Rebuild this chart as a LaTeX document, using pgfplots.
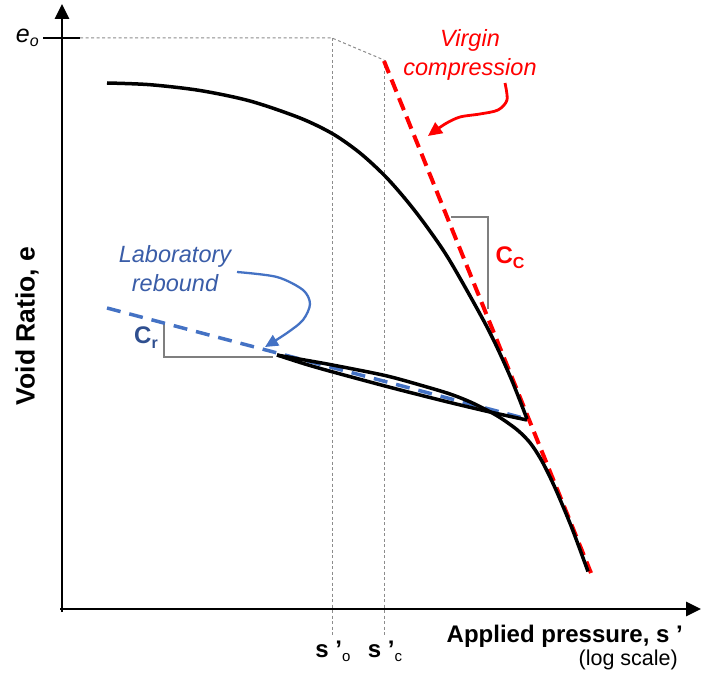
\documentclass[border=0pt]{standalone}
\usepackage{pgfplots}
\pgfplotsset{compat=1.18}
\usepackage{fontspec}
\setmainfont{Liberation Sans}
\usetikzlibrary{arrows.meta}
\definecolor{vred}{HTML}{FF0000}
\definecolor{lblue}{HTML}{4472C4}
\definecolor{tblue}{HTML}{3A5DA8}
\definecolor{cblue}{HTML}{2F4F8F}
\definecolor{tgray}{HTML}{7F7F7F}
\definecolor{dgray}{HTML}{8C8C8C}
\begin{document}
\begin{tikzpicture}
\useasboundingbox (0,0) rectangle (701pt,676pt);
\begin{axis}[
  scale only axis, width=701pt, height=676pt,
  xmin=0, xmax=701, ymin=0, ymax=676, y dir=reverse,
  hide axis, clip=false, anchor=south west, at={(0,0)},
]
% guide lines
\addplot[dgray, line width=1pt, dash pattern=on 3pt off 2.5pt] coordinates {(80,38) (332,38) (384,60)};
\addplot[dgray, line width=1pt, dash pattern=on 3pt off 2.5pt] coordinates {(332,38) (332,635)};
\addplot[dgray, line width=1pt, dash pattern=on 3pt off 2.5pt] coordinates {(384,60) (384,635)};
% axes
\addplot[black, line width=2.8pt, -{Triangle[length=15pt,width=14pt]}] coordinates {(62,612) (62,4)};
\addplot[black, line width=2.8pt, -{Triangle[length=15pt,width=14pt]}] coordinates {(60,609) (701,609)};
\addplot[black, line width=2.8pt] coordinates {(43,38) (80,38)};
% slope triangles
\addplot[tgray, line width=2.5pt] coordinates {(451,217) (488,217) (488,309)};
\addplot[tgray, line width=2.5pt] coordinates {(164,323) (164,357) (273,357)};
% virgin compression line
\addplot[vred, line width=4pt, dash pattern=on 13pt off 7pt] coordinates {(384,61) (591,573)};
% laboratory rebound line
\addplot[lblue, line width=3.5pt, dash pattern=on 14pt off 9pt] coordinates {(107,308) (527,419)};
% loading curve
\addplot[black, line width=3.5pt, smooth] coordinates {(107,83) (150,84.7) (200,90.5) (250,101) (300,118) (333,134) (360,153) (385,176) (407,201) (427,227) (450,261) (487,327) (510,376) (527,419)};
% unloading curve
\addplot[black, line width=3.5pt, smooth] coordinates {(527,420) (490,412) (450,402.5) (420,395) (385,386) (333,372) (305,364) (277,355)};
% reloading curve
\addplot[black, line width=3.5pt, smooth] coordinates {(277,355) (303,359.7) (333,365.1) (385,375.5) (420,385) (450,394) (473,403.2) (497,415.7) (517,429.7) (530,442.7) (540,457.7) (548,472.9) (557,492.3) (572,528.3) (588,571.5)};
% annotation arrows
\addplot[vred, line width=2.8pt, smooth, -{Triangle[length=14pt,width=13pt]}] coordinates {(505,83) (507,100) (498,110) (480,114) (460,117) (445,124) (428,136)};
\addplot[lblue, line width=2.3pt, smooth, -{Triangle[length=13pt,width=12pt]}] coordinates {(237,272) (277,277) (303,290) (310,304) (303,320) (287,333) (265,347)};
% texts
\node[anchor=east, inner sep=0pt] at (axis cs:39,38) {\fontsize{25}{28}\selectfont\itshape e\raisebox{-4pt}{\fontsize{16}{18}\selectfont o}};
\node[text=vred, align=center, inner sep=0pt, font=\fontsize{23.5}{29}\selectfont\itshape] at (axis cs:470,55) {Virgin\\compression};
\node[text=tblue, align=center, inner sep=0pt, font=\fontsize{23.5}{29}\selectfont\itshape] at (axis cs:175,269) {Laboratory\\rebound};
\node[text=vred, inner sep=0pt] at (axis cs:510,258) {\fontsize{24}{28}\selectfont\bfseries C\raisebox{-5pt}{\fontsize{16}{18}\selectfont C}};
\node[text=cblue, inner sep=0pt] at (axis cs:146,338) {\fontsize{24}{28}\selectfont\bfseries C\raisebox{-5pt}{\fontsize{16}{18}\selectfont r}};
\node[rotate=90, inner sep=0pt] at (axis cs:27,326) {\fontsize{26.5}{30}\selectfont\bfseries Void Ratio, e};
\node[anchor=base east, inner sep=0pt] at (axis cs:683,642) {\fontsize{24}{28}\selectfont\bfseries Applied pressure, s ’};
\node[anchor=base east, inner sep=0pt] at (axis cs:678,665) {\fontsize{21.5}{26}\selectfont (log scale)};
\node[anchor=base, inner sep=0pt] at (axis cs:333,657) {\fontsize{24}{28}\selectfont\bfseries s ’\raisebox{-4pt}{\fontsize{15}{18}\selectfont\mdseries o}};
\node[anchor=base, inner sep=0pt] at (axis cs:385,657) {\fontsize{24}{28}\selectfont\bfseries s ’\raisebox{-4pt}{\fontsize{15}{18}\selectfont\mdseries c}};
\end{axis}
\end{tikzpicture}
\end{document}
